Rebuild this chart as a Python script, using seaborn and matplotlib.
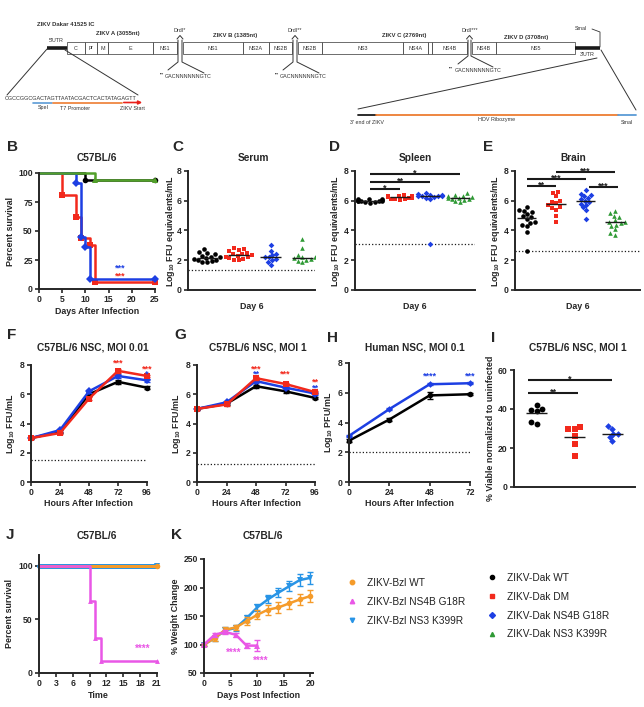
import matplotlib
matplotlib.use("Agg")
import matplotlib.pyplot as plt
from matplotlib.lines import Line2D
from matplotlib.patches import Rectangle
import numpy as np
import pandas as pd
import seaborn as sns

W, H = 644, 707

# ---------------- data ----------------
dak_names = ["ZIKV-Dak WT", "ZIKV-Dak DM", "ZIKV-Dak NS4B G18R", "ZIKV-Dak NS3 K399R"]
dak_colors = ["#000000", "#f2291c", "#1d3fe3", "#2f9a35"]
dak_markers = ["o", "s", "D", "^"]
bzl_names = ["ZIKV-Bzl WT", "ZIKV-Bzl NS4B G18R", "ZIKV-Bzl NS3 K399R"]
bzl_colors = ["#f59b2a", "#e957e6", "#2894e6"]
bzl_markers = ["o", "^", "v"]

# B: survival, Dakar viruses
b_wt_days = [0, 10, 25]
b_wt_surv = [100, 94, 94]
b_dm_days = [0, 5, 8, 9, 11, 12, 25]
b_dm_surv = [100, 81, 62, 44, 38, 6, 6]
b_g18r_days = [0, 8, 9, 10, 11, 25]
b_g18r_surv = [100, 91, 45, 36, 9, 9]
b_k399r_days = [0, 12, 25]
b_k399r_surv = [100, 94, 94]

# C: serum
serum_wt = [2.75, 2.55, 2.5, 2.4, 2.3, 2.25, 2.2, 2.15, 2.1, 2.05, 2.0, 1.95, 1.9, 1.85]
serum_dm = [2.8, 2.75, 2.7, 2.6, 2.5, 2.45, 2.4, 2.35, 2.3, 2.25, 2.2, 2.15, 2.1, 2.05, 2.0]
serum_g18r = [3.0, 2.6, 2.45, 2.35, 2.25, 2.2, 2.1, 2.0, 1.9, 1.7]
serum_k399r = [3.45, 2.85, 2.35, 2.25, 2.2, 2.15, 2.1, 2.05, 1.95, 1.85]

# D: spleen
spleen_wt = [6.15, 6.1, 6.1, 6.05, 6.05, 6.0, 6.0, 6.0, 5.95, 5.95, 5.9, 5.9, 5.85]
spleen_dm = [6.4, 6.35, 6.35, 6.3, 6.3, 6.25, 6.25, 6.2, 6.2, 6.15, 6.1, 6.1, 6.05]
spleen_g18r = [6.5, 6.45, 6.4, 6.4, 6.35, 6.35, 6.3, 6.3, 6.25, 6.2, 6.1, 3.1]
spleen_k399r = [6.5, 6.4, 6.35, 6.3, 6.25, 6.2, 6.2, 6.15, 6.1, 6.05, 5.95, 5.9]

# E: brain
brain_wt = [5.55, 5.35, 5.3, 5.25, 5.1, 4.95, 4.9, 4.75, 4.6, 4.5, 4.4, 4.3, 3.9, 2.6]
brain_dm = [6.6, 6.55, 6.3, 6.0, 5.9, 5.85, 5.7, 5.6, 5.5, 5.4, 5.0, 4.6]
brain_g18r = [6.7, 6.45, 6.4, 6.3, 6.2, 6.1, 6.0, 5.9, 5.8, 5.7, 5.55, 5.35, 4.8]
brain_k399r = [5.3, 5.15, 5.0, 4.9, 4.7, 4.6, 4.55, 4.5, 4.4, 4.3, 4.1, 3.8, 3.7]

# F/G/H: growth curves
hours = [0, 24, 48, 72, 96]
f_wt = [3.0, 3.45, 6.0, 6.85, 6.45]
f_dm = [3.0, 3.35, 5.7, 7.6, 7.25]
f_g18r = [3.0, 3.55, 6.2, 7.25, 6.95]
f_sd = [0.08, 0.1, 0.12, 0.15, 0.1]
g_wt = [5.0, 5.35, 6.55, 6.2, 5.75]
g_dm = [5.0, 5.3, 7.1, 6.7, 6.15]
g_g18r = [5.0, 5.45, 6.9, 6.45, 6.05]
g_sd = [0.08, 0.08, 0.1, 0.1, 0.08]
h_hours = [0, 24, 48, 72]
h_wt = [2.78, 4.2, 5.82, 5.9]
h_wt_sd = [0.1, 0.08, 0.25, 0.08]
h_g18r = [3.1, 4.9, 6.57, 6.64]
h_g18r_sd = [0.06, 0.05, 0.06, 0.05]

# I: viability
viable_wt = [42, 40, 39.5, 39, 33.5, 32.5]
viable_dm = [31, 30, 29.5, 26, 22, 16]
viable_g18r = [31.5, 30, 27, 27, 25.5, 23.5]

# J: survival, Brazil viruses
j_flat_days = [0, 21]
j_wt_surv = [100, 100]
j_k399r_surv = [100, 100]
j_g18r_days = [0, 9, 10, 11, 21]
j_g18r_surv = [100, 67, 33, 11, 11]

# K: weight
k_days = [0, 2, 4, 6, 8, 10, 12, 14, 16, 18, 20]
k_wt = [100, 111, 126, 130, 141, 152, 161, 165, 172, 179, 185]
k_wt_err = [3, 4, 5, 5, 7, 8, 9, 9, 9, 9, 10]
k_k399r = [100, 111, 125, 129, 146, 165, 179, 191, 202, 213, 217]
k_k399r_err = [3, 4, 5, 5, 6, 6, 7, 8, 9, 10, 10]
k_g18r_days = [0, 2, 4, 6, 8, 10]
k_g18r = [100, 117, 122, 117, 98, 98]
k_g18r_err = [3, 4, 4, 4, 4, 10]


# ---------------- helpers ----------------
def px_axes(fig, left, top, right, bottom):
    return fig.add_axes([left / W, 1 - bottom / H, (right - left) / W, (bottom - top) / H])


def ftext(fig, x, y, s, **kw):
    fig.text(x / W, 1 - y / H, s, ha=kw.pop("ha", "center"), va=kw.pop("va", "center"), **kw)


def style(ax):
    sns.despine(ax=ax)
    for sp in ax.spines.values():
        sp.set_linewidth(1.4)
    ax.tick_params(width=1.2, length=3, labelsize=6.2, pad=1.5)
    ax.set_xlabel("")
    ax.set_ylabel("")


def dot_panel(ax, values, ylim, limit):
    df = pd.concat([pd.DataFrame({"group": n, "value": v}) for n, v in zip(dak_names, values)])
    for name, c, m in zip(dak_names, dak_colors, dak_markers):
        sns.swarmplot(data=df[df.group == name], x="group", y="value", order=dak_names,
                      color=c, marker=m, size=3.3 if m != "D" else 2.9, linewidth=0,
                      ax=ax, warn_thresh=1)
    for i, v in enumerate(values):
        ax.hlines(np.median(v), i - 0.33, i + 0.33, color="k", lw=1.0, zorder=5)
    ax.axhline(limit, ls=":", color="k", lw=0.9)
    ax.set_ylim(*ylim)
    ax.set_xticks([])


def sig(ax, x0, x1, y, stars, fs=6.5):
    ax.plot([x0, x1], [y, y], color="k", lw=1.5, clip_on=False, solid_capstyle="butt")
    ax.annotate(stars, xy=((x0 + x1) / 2, y), xytext=(0, -2.5), textcoords="offset points",
                ha="center", va="bottom", fontsize=fs, color="k")


def stars(ax, x, y, s, color, fs=6.5):
    ax.annotate(s, xy=(x, y), xytext=(0, -3.2), textcoords="offset points",
                ha="center", va="bottom", fontsize=fs, color=color, annotation_clip=False)


def survival(ax, days, surv, color, marker, lw=1.8, ms=4):
    sns.lineplot(x=days, y=surv, drawstyle="steps-post", color=color, lw=lw,
                 marker=marker, markersize=ms, markeredgewidth=0,
                 markevery=list(range(1, len(days))), ax=ax, clip_on=False)


def growth(ax, x, y, err, color, marker, ms=4, capsize=2):
    sns.lineplot(x=x, y=y, color=color, lw=1.8, marker=marker, markersize=ms,
                 markeredgewidth=0, ax=ax, clip_on=False)
    ax.errorbar(x, y, yerr=err, fmt="none", ecolor=color, elinewidth=1, capsize=capsize,
                capthick=1, clip_on=False)


def draw_schematic(ax):
    ax.set_xlim(0, W)
    ax.set_ylim(126, 0)
    ax.axis("off")
    top, bot, mid = 42, 54, 48
    small = dict(fontsize=3.9, fontweight="normal", color="#333")
    blocks = [("C", 67, 85), ("pr", 85, 97), ("M", 97, 108), ("E", 108, 153), ("NS1", 153, 177),
              ("NS1", 183, 243), ("NS2A", 243, 269), ("NS2B", 269, 292),
              ("NS2B", 298, 322), ("NS3", 322, 403), ("NS4A", 403, 428),
              ("NS4B", 432, 467), ("NS4B", 472, 496), ("NS5", 496, 575)]
    for name, x0, x1 in blocks:
        ax.add_patch(Rectangle((x0, top), x1 - x0, bot - top, fill=False, lw=0.6, ec="#555"))
        ax.text((x0 + x1) / 2, mid, name, ha="center", va="center", **small)
    ax.add_patch(Rectangle((428, top), 4, bot - top, fill=False, lw=0.6, ec="#555"))
    ax.plot([47, 67], [mid, mid], color="k", lw=2.6, solid_capstyle="butt")
    ax.plot([575, 600], [mid, mid], color="k", lw=2.6, solid_capstyle="butt")
    ax.text(56, 41, "5'UTR", ha="center", va="center", **small)
    ax.text(587, 55, "3'UTR", ha="center", va="center", **small)
    bold = dict(fontsize=4.3, fontweight="bold", color="#333", ha="center", va="center")
    ax.text(37, 24, "ZIKV Dakar 41525 IC", **{**bold, "ha": "left"})
    ax.text(118, 34, "ZIKV A (3055nt)", **bold)
    ax.text(235, 36, "ZIKV B (1385nt)", **bold)
    ax.text(404, 36, "ZIKV C (2769nt)", **bold)
    ax.text(526, 37, "ZIKV D (3708nt)", **bold)
    ax.text(581, 28, "SmaI", ha="center", va="center", **small)
    ax.plot([592, 600, 600], [29, 32, 47], color="#333", lw=0.6)
    for x0, x1, lab, dy in [(177, 183, "DrdI*", 0), (292, 298, "DrdI**", 0), (467, 472, "DrdI***", -6)]:
        xa, xb, xc = x0 + 1, x1 - 1, (x0 + x1) / 2
        ax.plot([xa, xa, xa - 10], [40, 62 + dy, 70 + dy], color="#333", lw=0.7)
        ax.plot([xb, xb, xb + 22], [40, 62 + dy, 73 + dy], color="#333", lw=0.7)
        ax.plot([xc - 3, xc, xc + 3], [39, 35.5, 39], color="#333", lw=0.7)
        ax.text(xc, 31, lab, ha="center", va="center", **small)
        ax.text(xc - 15, 77 + dy, "GACNNNNNNGTC", ha="left", va="center", **small)
        ax.text(xc - 16, 75 + dy, "***", ha="right", va="center", fontsize=2.5, color="#333")
    # 5' end zoom
    ax.plot([47, 7], [49, 95], color="#333", lw=0.7)
    ax.plot([65, 138], [50, 95], color="#333", lw=0.7)
    ax.text(5, 99, "CGCCGGCGACTAGTTAATACGACTCACTATAGAGTT", ha="left", va="center",
            fontsize=4.0, fontweight="normal", color="#333")
    ax.plot([33, 52], [102.5, 102.5], color="#5b9bd5", lw=1.2)
    ax.plot([53, 122], [102.5, 102.5], color="#ed7d31", lw=1.2)
    ax.annotate("", xy=(145, 102.5), xytext=(121, 102.5),
                arrowprops=dict(arrowstyle="-|>", color="#e8201a", lw=1.2, mutation_scale=5))
    ax.text(43, 108, "SpeI", ha="center", va="center", **small)
    ax.text(75, 108, "T7 Promoter", ha="center", va="center", **small)
    ax.text(132, 108, "ZIKV Start", ha="center", va="center", **small)
    # 3' end zoom
    ax.plot([597, 358], [58, 109], color="#333", lw=0.7)
    ax.plot([601, 636], [50, 110], color="#333", lw=0.7)
    ax.plot([358, 376], [115, 115], color="k", lw=1.3)
    ax.plot([376, 618], [115, 115], color="#ed7d31", lw=1.3)
    ax.plot([618, 636], [115, 115], color="#5b9bd5", lw=1.3)
    ax.text(367, 122, "3' end of ZIKV", ha="center", va="center", **small)
    ax.text(497, 120, "HDV Ribozyme", ha="center", va="center", **small)
    ax.text(627, 123, "SmaI", ha="center", va="center", **small)


# ---------------- figure ----------------
sns.set_theme(style="ticks")
plt.rcParams["font.family"] = ["Liberation Sans", "DejaVu Sans"]
plt.rcParams["font.weight"] = "bold"
plt.rcParams["axes.labelweight"] = "bold"
plt.rcParams["mathtext.fontset"] = "custom"
plt.rcParams["mathtext.rm"] = "Liberation Sans:bold"
plt.rcParams["mathtext.bf"] = "Liberation Sans:bold"
plt.rcParams["mathtext.it"] = "Liberation Sans:bold"
plt.rcParams["mathtext.default"] = "rm"

fig = plt.figure(figsize=(W / 100, H / 100), dpi=100)
fig.patch.set_facecolor("white")

axA = fig.add_axes([0, 1 - 126 / H, 1, 126 / H])
draw_schematic(axA)

title_kw = dict(fontsize=7.3, fontweight="bold")
letter_kw = dict(fontsize=11, fontweight="bold")
lab_kw = dict(fontsize=6.4, fontweight="bold")
ffu_label = r"Log$_{10}$ FFU equivalents/mL"
red, blue = dak_colors[1], dak_colors[2]

# B
axB = px_axes(fig, 39, 173, 155, 289)
for d, s, c, m in zip([b_wt_days, b_dm_days, b_g18r_days, b_k399r_days],
                      [b_wt_surv, b_dm_surv, b_g18r_surv, b_k399r_surv],
                      ["#000000", red, blue, "#52a02a"],
                      dak_markers):
    survival(axB, d, s, c, m)
style(axB)
axB.set_xlim(0, 25)
axB.set_ylim(0, 100)
axB.set_xticks([0, 5, 10, 15, 20, 25])
axB.set_yticks([0, 25, 50, 75, 100])
axB.set_xlabel("Days After Infection", labelpad=2, **lab_kw)
axB.set_ylabel("Percent survival", labelpad=2, **lab_kw)
stars(axB, 17.5, 18, "***", blue)
stars(axB, 17.5, 11, "***", red)
ftext(fig, 13, 147, "B", **letter_kw)
ftext(fig, 97, 158, "C57BL/6", **title_kw)

# C
axC = px_axes(fig, 188, 171, 315, 290)
dot_panel(axC, [serum_wt, serum_dm, serum_g18r, serum_k399r], (0, 8), 1.33)
style(axC)
axC.set_xlim(-0.6, 3.4)
axC.set_yticks([0, 2, 4, 6, 8])
axC.set_xlabel("Day 6", labelpad=9, **lab_kw)
axC.set_ylabel(ffu_label, labelpad=0, **lab_kw)
ftext(fig, 178, 147, "C", **letter_kw)
ftext(fig, 253, 158, "Serum", **title_kw)

# D
axD = px_axes(fig, 355, 171, 475, 290)
dot_panel(axD, [spleen_wt, spleen_dm, spleen_g18r, spleen_k399r], (0, 8), 3.1)
style(axD)
axD.set_xlim(-0.5, 3.5)
axD.set_yticks([0, 2, 4, 6, 8])
axD.set_xlabel("Day 6", labelpad=9, **lab_kw)
axD.set_ylabel(ffu_label, labelpad=1, **lab_kw)
sig(axD, 0, 3, 7.8, "*")
sig(axD, 0, 2, 7.28, "**")
sig(axD, 0, 1, 6.77, "*")
ftext(fig, 335, 147, "D", **letter_kw)
ftext(fig, 415, 158, "Spleen", **title_kw)

# E
axE = px_axes(fig, 515, 171, 640, 290)
dot_panel(axE, [brain_wt, brain_dm, brain_g18r, brain_k399r], (0, 8), 2.65)
style(axE)
axE.set_xlim(-0.4, 3.85)
axE.set_yticks([0, 2, 4, 6, 8])
axE.set_xlabel("Day 6", labelpad=9, **lab_kw)
axE.set_ylabel(ffu_label, labelpad=1, **lab_kw)
sig(axE, 1, 3, 7.95, "***")
sig(axE, 0, 2, 7.45, "***")
sig(axE, 0, 1, 7.0, "**")
sig(axE, 2.1, 3.1, 6.95, "***")
ftext(fig, 488, 147, "E", **letter_kw)
ftext(fig, 573, 158, "Brain", **title_kw)

# F
axF = px_axes(fig, 31, 365, 147, 482)
for y, c, m in zip([f_wt, f_g18r, f_dm], ["#000000", blue, red], ["o", "D", "s"]):
    growth(axF, hours, y, f_sd, c, m)
style(axF)
axF.axhline(1.5, ls=":", color="k", lw=0.9)
axF.set_xlim(0, 96)
axF.set_ylim(0, 8)
axF.set_xticks(hours)
axF.set_yticks([0, 2, 4, 6, 8])
axF.set_xlabel("Hours After Infection", labelpad=1, **lab_kw)
axF.set_ylabel(r"Log$_{10}$ FFU/mL", labelpad=2, **lab_kw)
stars(axF, 72, 8.1, "***", red)
stars(axF, 96, 7.75, "***", red)
stars(axF, 96, 7.35, "*", blue)
ftext(fig, 12, 335, "F", **letter_kw)
ftext(fig, 93, 348, "C57BL/6 NSC, MOI 0.01", **title_kw)

# G
axG = px_axes(fig, 197, 365, 315, 482)
for y, c, m in zip([g_wt, g_g18r, g_dm], ["#000000", blue, red], ["o", "D", "s"]):
    growth(axG, hours, y, g_sd, c, m)
style(axG)
axG.axhline(1.2, ls=":", color="k", lw=0.9)
axG.set_xlim(0, 96)
axG.set_ylim(0, 8)
axG.set_xticks(hours)
axG.set_yticks([0, 2, 4, 6, 8])
axG.set_xlabel("Hours After Infection", labelpad=1, **lab_kw)
axG.set_ylabel(r"Log$_{10}$ FFU/mL", labelpad=2, **lab_kw)
stars(axG, 48, 7.75, "***", red)
stars(axG, 48, 7.35, "**", blue)
stars(axG, 72, 7.35, "***", red)
stars(axG, 96, 6.85, "**", red)
stars(axG, 96, 6.45, "**", blue)
ftext(fig, 180, 335, "G", **letter_kw)
ftext(fig, 258, 348, "C57BL/6 NSC, MOI 1", **title_kw)

# H
axH = px_axes(fig, 349, 363, 470, 482)
growth(axH, h_hours, h_wt, h_wt_sd, "#000000", "o")
growth(axH, h_hours, h_g18r, h_g18r_sd, blue, "D", ms=3.4)
style(axH)
axH.axhline(2.0, ls=":", color="k", lw=0.9)
axH.set_xlim(0, 72)
axH.set_ylim(0, 8)
axH.set_xticks(h_hours)
axH.set_yticks([0, 2, 4, 6, 8])
axH.set_xlabel("Hours After Infection", labelpad=1, **lab_kw)
axH.set_ylabel(r"Log$_{10}$ PFU/mL", labelpad=2, **lab_kw)
stars(axH, 48, 7.1, "****", blue)
stars(axH, 72, 7.1, "***", blue)
ftext(fig, 332, 338, "H", **letter_kw)
ftext(fig, 415, 348, "Human NSC, MOI 0.1", **title_kw)

# I
axI = px_axes(fig, 514, 370, 635, 487)
vdf = pd.concat([pd.DataFrame({"group": n, "value": v})
                 for n, v in zip(dak_names[:3], [viable_wt, viable_dm, viable_g18r])])
for name, c, m in zip(dak_names[:3], dak_colors[:3], dak_markers[:3]):
    sns.swarmplot(data=vdf[vdf.group == name], x="group", y="value", order=dak_names[:3],
                  color=c, marker=m, size=4.2 if m != "D" else 3.4, linewidth=0, ax=axI)
for i, v in enumerate([viable_wt, viable_dm, viable_g18r]):
    axI.hlines(np.mean(v), i - 0.28, i + 0.28, color="k", lw=1.0, zorder=5)
style(axI)
axI.set_xlim(-0.6, 2.6)
axI.set_ylim(0, 60)
axI.set_xticks([])
axI.set_yticks([0, 20, 40, 60])
axI.set_ylabel("% Viable normalized to uninfected", labelpad=2, **lab_kw)
sig(axI, -0.24, 2.0, 55, "*")
sig(axI, -0.24, 1.1, 48, "**")
ftext(fig, 493, 338, "I", **letter_kw)
ftext(fig, 578, 348, "C57BL/6 NSC, MOI 1", **title_kw)

# J
axJ = px_axes(fig, 39, 555, 157, 673)
survival(axJ, j_flat_days, j_k399r_surv, bzl_colors[2], "v", lw=3.6, ms=4)
survival(axJ, j_flat_days, j_wt_surv, bzl_colors[0], "o", lw=2.2, ms=4)
survival(axJ, j_g18r_days, j_g18r_surv, bzl_colors[1], "^", lw=1.8, ms=3.5)
style(axJ)
axJ.set_xlim(0, 21)
axJ.set_ylim(0, 110)
axJ.set_xticks([0, 3, 6, 9, 12, 15, 18, 21])
axJ.set_yticks([0, 50, 100])
axJ.set_xlabel("Time", labelpad=2, **lab_kw)
axJ.set_ylabel("Percent survival", labelpad=3, **lab_kw)
stars(axJ, 18.5, 22, "****", bzl_colors[1], fs=7)
ftext(fig, 10, 535, "J", **letter_kw)
ftext(fig, 97, 536, "C57BL/6", **title_kw)

# K
axK = px_axes(fig, 204, 559, 313, 673)
growth(axK, k_days, k_k399r, k_k399r_err, bzl_colors[2], "v", capsize=2.5)
growth(axK, k_days, k_wt, k_wt_err, bzl_colors[0], "o", capsize=2.5)
growth(axK, k_g18r_days, k_g18r, k_g18r_err, bzl_colors[1], "^", capsize=2.5)
style(axK)
axK.set_xlim(0, 20.5)
axK.set_ylim(50, 250)
axK.set_xticks([0, 5, 10, 15, 20])
axK.set_yticks([50, 100, 150, 200, 250])
axK.set_xlabel("Days Post Infection", labelpad=2, **lab_kw)
axK.set_ylabel("% Weight Change", labelpad=2, **lab_kw)
stars(axK, 5.5, 84, "****", bzl_colors[1], fs=7)
stars(axK, 10.7, 70, "****", bzl_colors[1], fs=7)
ftext(fig, 177, 535, "K", **letter_kw)
ftext(fig, 263, 536, "C57BL/6", **title_kw)

# legends
leg_prop = {"weight": "normal", "size": 7.3}
bzl_handles = [Line2D([], [], ls="", marker=m, color=c, markersize=3.2) for c, m in zip(bzl_colors, bzl_markers)]
dak_handles = [Line2D([], [], ls="", marker=m, color=c, markersize=3.0) for c, m in zip(dak_colors, dak_markers)]
leg1 = fig.legend(bzl_handles, bzl_names, loc="upper left", bbox_to_anchor=(347 / W, 1 - 578 / H),
                  frameon=False, prop=leg_prop, handlelength=1.0, handletextpad=1.0,
                  labelspacing=0.87, borderaxespad=0, borderpad=0)
leg2 = fig.legend(dak_handles, dak_names, loc="upper left", bbox_to_anchor=(487 / W, 1 - 573 / H),
                  frameon=False, prop=leg_prop, handlelength=1.0, handletextpad=1.0,
                  labelspacing=0.87, borderaxespad=0, borderpad=0)
for leg in (leg1, leg2):
    for t in leg.get_texts():
        t.set_color("#222222")

fig.savefig("out.png", dpi=100, facecolor="white")
